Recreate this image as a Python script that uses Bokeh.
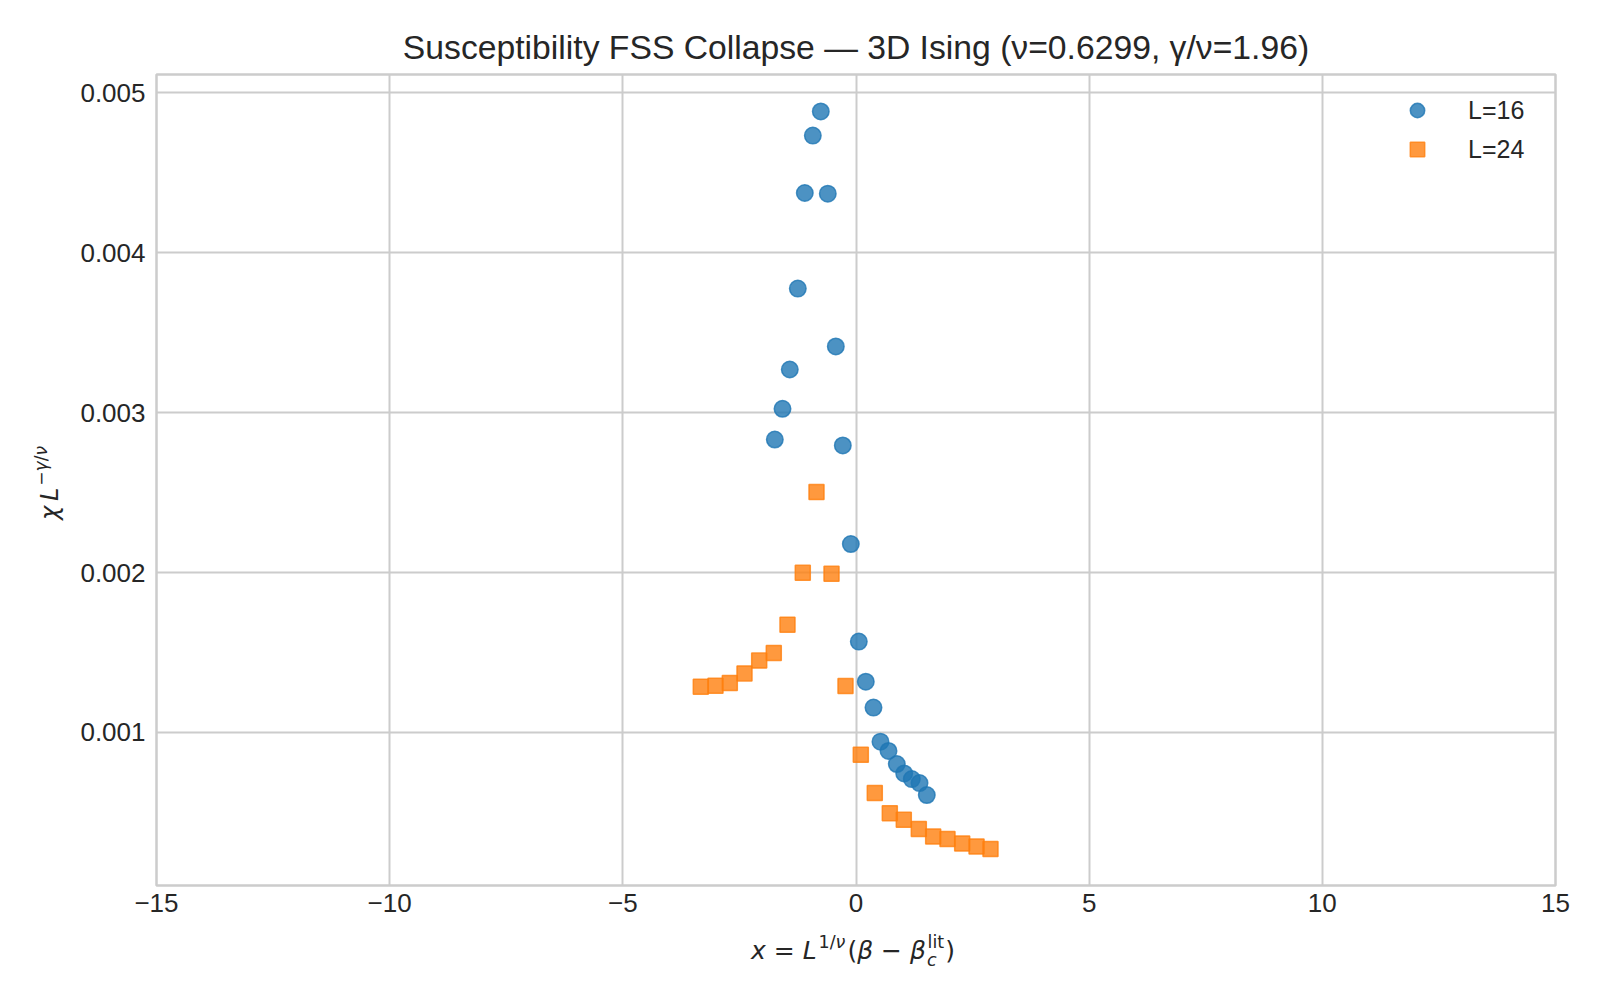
from bokeh.plotting import figure
from bokeh.models import (Range1d, FixedTicker, CustomJSTickFormatter,
                          Legend, LegendItem, Div)
from bokeh.layouts import row, column
from bokeh.embed import file_html
from bokeh.resources import INLINE

# ---------------- data ----------------
TITLE = "Susceptibility FSS Collapse \u2014 3D Ising (\u03bd=0.6299, \u03b3/\u03bd=1.96)"
SERIES_NAMES = ["L=16", "L=24"]

L16_x = [-1.741, -1.576, -1.420, -1.248, -1.098, -0.926, -0.755, -0.605, -0.433, -0.283,
         -0.111, 0.060, 0.210, 0.375, 0.525, 0.697, 0.875, 1.034, 1.197, 1.362, 1.518]
L16_y = [0.002832, 0.003024, 0.003270, 0.003776, 0.004374, 0.004733, 0.004884, 0.004370,
         0.003414, 0.002795, 0.002178, 0.001568, 0.001317, 0.001155, 0.000942, 0.000884,
         0.000802, 0.000743, 0.000708, 0.000683, 0.000608]

L24_x = [-3.328, -3.013, -2.706, -2.391, -2.076, -1.763, -1.469, -1.141, -0.847, -0.525,
         -0.225, 0.103, 0.403, 0.725, 1.025, 1.347, 1.655, 1.962, 2.277, 2.585, 2.884]
L24_y = [0.001286, 0.001292, 0.001309, 0.001369, 0.001449, 0.001497, 0.001674, 0.001998,
         0.002503, 0.001992, 0.001290, 0.000860, 0.000621, 0.000495, 0.000454, 0.000395,
         0.000349, 0.000333, 0.000305, 0.000286, 0.000270]

X_TICKS = [-15, -10, -5, 0, 5, 10, 15]
Y_TICKS = [0.001, 0.002, 0.003, 0.004, 0.005]
X0, X1 = -15.0, 15.0
Y0, Y1 = 0.0000423, 0.0051152

# ---------------- layout ----------------
YDIV_W = 70
FL, FT, FW, FH = 156, 74, 1399, 811
BR, BB = 29, 45
P_W = (FL - YDIV_W) + FW + BR
TXT = "#262626"
GRID = "#cccccc"
SANS = "Liberation Sans"

p = figure(frame_width=FW, frame_height=FH,
           min_border_left=FL - YDIV_W, min_border_top=FT,
           min_border_right=BR, min_border_bottom=BB,
           x_range=Range1d(X0, X1), y_range=Range1d(Y0, Y1),
           output_backend="svg", toolbar_location=None, title=TITLE)
p.margin = 0
p.background_fill_color = "white"
p.border_fill_color = "white"

p.title.text_font = SANS
p.title.text_font_size = "33.7px"
p.title.text_font_style = "normal"
p.title.text_color = TXT
p.title.align = "center"
p.title.standoff = 18

p.xaxis.ticker = FixedTicker(ticks=X_TICKS)
p.yaxis.ticker = FixedTicker(ticks=Y_TICKS)
p.xaxis.formatter = CustomJSTickFormatter(
    code="return tick < 0 ? '\u2212' + Math.abs(tick) : String(tick);")
p.yaxis.formatter = CustomJSTickFormatter(code="return tick.toFixed(3);")
for ax in (p.xaxis, p.yaxis):
    ax.axis_line_color = None
    ax.major_tick_line_color = None
    ax.minor_tick_line_color = None
    ax.major_tick_out = 0
    ax.major_tick_in = 0
    ax.major_label_text_font = SANS
    ax.major_label_text_font_size = "26px"
    ax.major_label_text_color = TXT
p.xaxis.major_label_standoff = 8
p.yaxis.major_label_standoff = 11

p.grid.grid_line_color = GRID
p.grid.grid_line_width = 2
p.outline_line_color = GRID
p.outline_line_width = 2.5
p.outline_line_alpha = 1.0

r1 = p.scatter(L16_x, L16_y, marker="circle", size=16.5, fill_color="#1f77b4",
               line_color="#1f77b4", fill_alpha=0.8, line_alpha=0.8, line_width=1.5)
r2 = p.scatter(L24_x, L24_y, marker="square", size=15, fill_color="#ff7f0e",
               line_color="#ff7f0e", fill_alpha=0.8, line_alpha=0.8, line_width=1.5)

legend = Legend(items=[LegendItem(label=SERIES_NAMES[0], renderers=[r1]),
                       LegendItem(label=SERIES_NAMES[1], renderers=[r2])],
                location=(1241, 718), border_line_color=None,
                background_fill_alpha=0.0, label_text_font=SANS,
                label_text_font_size="25px", label_text_color=TXT,
                glyph_width=40, glyph_height=36, label_height=36,
                label_standoff=31, padding=10, spacing=3, margin=0)
p.add_layout(legend)

# ---------------- axis labels (HTML with super/subscripts) ----------------
FONT = "font-family:'DejaVu Sans';color:%s;white-space:nowrap;line-height:1;" % TXT


def sup(t, size, dy, extra=""):
    return ('<span style="position:relative;top:%dpx;font-size:%spx;%s">%s</span>'
            % (dy, size, extra, t))


X_LABEL_HTML = (
    '<div style="position:relative;width:%dpx;height:60px;">'
    '<span style="position:absolute;left:%dpx;top:%dpx;font-size:25px;%s">'
    '<i>x</i> = <i>L</i>%s(<i>&beta;</i> &minus; <i>&beta;</i>%s%s)'
    '</span></div>'
) % (P_W, 751 - YDIV_W, 8, FONT,
     sup("1/<i>&nu;</i>", 17.5, -11, "margin-left:2px;margin-right:2px;"),
     sup("<i>c</i>", 17.5, 7, "margin-left:1px;"),
     sup("lit", 17.5, -11, "margin-left:-9px;margin-right:1px;"))

Y_LABEL_HTML = (
    '<div style="position:relative;width:%dpx;height:700px;">'
    '<span style="position:absolute;left:%dpx;top:%dpx;font-size:24px;'
    'transform:rotate(-90deg);transform-origin:0 0;%s">'
    '<i>&chi;</i>&thinsp;<i>L</i>%s</span></div>'
) % (YDIV_W, 38, 520, FONT, sup("&minus;<i>&gamma;</i>/<i>&nu;</i>", 17, -11,
                                 "margin-left:2px;"))

ydiv = Div(text=Y_LABEL_HTML, width=YDIV_W, height=700, margin=0)
xdiv = Div(text=X_LABEL_HTML, width=P_W, height=60, margin=0)

layout = row(ydiv, column(p, xdiv, spacing=0), spacing=0)

open("out.html", "w").write(file_html(layout, INLINE))
